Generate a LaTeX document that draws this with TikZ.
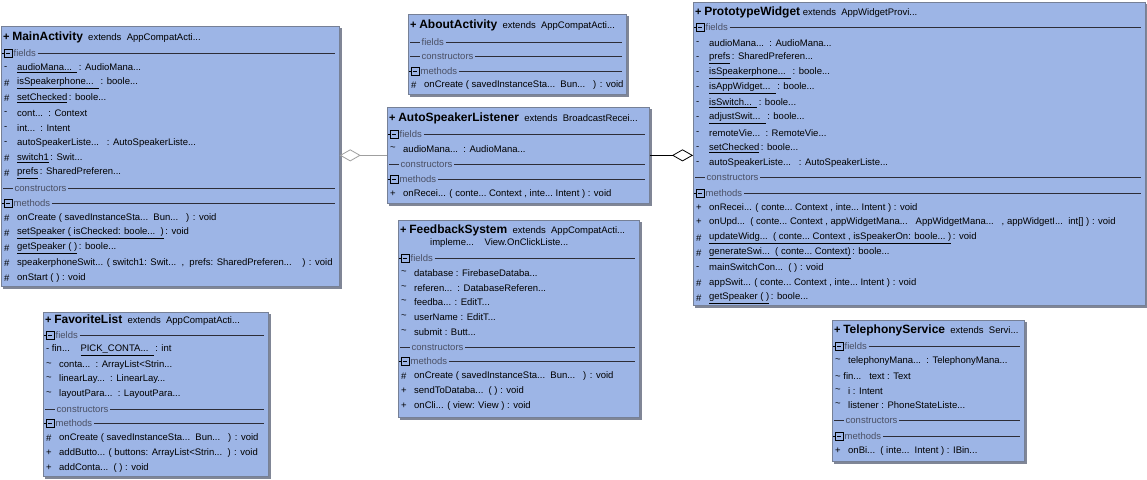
\documentclass[tikz,border=0pt]{standalone}
\usepackage{fontspec}
\setmainfont{Liberation Sans}
\usetikzlibrary{arrows.meta}
\definecolor{boxfill}{RGB}{157,181,230}
\definecolor{boxborder}{RGB}{118,128,150}
\definecolor{shadowc}{RGB}{128,134,150}
\definecolor{seclbl}{RGB}{75,80,100}
\definecolor{secline}{RGB}{45,45,55}
\tikzset{
 classbox/.style={draw=boxborder, fill=boxfill, line width=0.7pt, inner sep=0pt, anchor=north west},
 boxshadow/.style={fill=shadowc, draw=none},
 itemtxt/.style={anchor=west, inner sep=0pt, font=\fontsize{9.5}{10}\selectfont, text=black},
 titletxt/.style={anchor=west, inner sep=0pt, font=\fontsize{9.5}{10}\selectfont, text=black},
 sectxt/.style={anchor=west, inner sep=1.5pt, font=\fontsize{9.5}{10}\selectfont, text=seclbl},
 secrule/.style={draw=secline, line width=0.6pt},
 iconbox/.style={draw=black, line width=0.6pt, fill=none},
 aggr/.style={line width=0.8pt, -{Diamond[open, length=21pt, width=12pt, line width=0.8pt]}},
}
\newcommand\tld{\textasciitilde}
\newcommand\cname[1]{\textbf{\fontsize{12}{12}\selectfont #1}}
\newcommand\tplus{\textbf{\fontsize{11}{12}\selectfont +}}
\newcounter{nodec}
\newcommand\ClassBox[5]{%
 \fill[boxshadow] (#2+2,#3+2) rectangle (#4+2.5,#5+2.5);
 \node[classbox, minimum width={(#4-#2)*1pt}, minimum height={(#5-#3)*1pt}] (#1) at (#2,#3) {};}
\newcommand\Title[4]{\node[titletxt] (#1-title) at (#2+2,#3) {#4};}
\newcommand\Row[4]{\stepcounter{nodec}%
 \node[itemtxt] (sym\arabic{nodec}) at (#1+3,#2) {#3};%
 \node[itemtxt] (row\arabic{nodec}) at (#1+16,#2) {#4};}
\newcommand\RowF[3]{\stepcounter{nodec}%
 \node[itemtxt] (row\arabic{nodec}) at (#1+3,#2) {#3};}
\newcommand\SecBox[4]{\stepcounter{nodec}%
 \draw[iconbox] (#1+3,#3-4) rectangle (#1+11,#3+4);
 \draw[iconbox] (#1+5,#3) -- (#1+9,#3);
 \draw[iconbox] (#1+1,#3) -- (#1+3,#3);
 \node[sectxt] (sec\arabic{nodec}) at (#1+11,#3) {#4};
 \draw[secrule] (sec\arabic{nodec}.east) -- (#2-4,#3);}
\newcommand\SecDash[4]{\stepcounter{nodec}%
 \draw[secrule] (#1+2,#3) -- (#1+12,#3);
 \node[sectxt] (sec\arabic{nodec}) at (#1+12,#3) {#4};
 \draw[secrule] (sec\arabic{nodec}.east) -- (#2-4,#3);}
\begin{document}
\begin{tikzpicture}[x=1pt,y=-1pt]
\useasboundingbox[fill=white] (0,0) rectangle (1147,479);

% ---------------- MainActivity
\ClassBox{ma}{1}{26}{339}{286}
\Title{ma}{1}{37}{\tplus\ \cname{MainActivity}\ \ extends\ \ AppCompatActi...}
\SecBox{1}{339}{53}{fields}
\Row{1}{68}{-}{\underline{audioMana...\ \ }\,: AudioMana...}
\Row{1}{83}{\#}{\underline{isSpeakerphone...\ \ }\,: boole...}
\Row{1}{98}{\#}{\underline{setChecked}\,: boole...}
\Row{1}{113}{-}{cont...\ \ : Context}
\Row{1}{128}{-}{int...\ \ : Intent}
\Row{1}{143}{-}{autoSpeakerListe...\ \ \ : AutoSpeakerListe...}
\Row{1}{158}{\#}{\underline{switch1}\,: Swit...}
\Row{1}{173}{\#}{\underline{prefs}\,: SharedPreferen...}
\SecDash{1}{339}{188}{constructors}
\SecBox{1}{339}{203}{methods}
\Row{1}{218}{\#}{onCreate ( savedInstanceSta...\ \ Bun...\ \ \ ) : void}
\Row{1}{233}{\#}{\underline{setSpeaker ( isChecked: boole...\ \ )}\,: void}
\Row{1}{248}{\#}{\underline{getSpeaker ( )}\,: boole...}
\Row{1}{263}{\#}{speakerphoneSwit... ( switch1: Swit...\ \ ,\ \ prefs: SharedPreferen...\ \ \ \ ) : void}
\Row{1}{278}{\#}{onStart ( ) : void}

% ---------------- FavoriteList
\ClassBox{fl}{43}{312}{268}{476}
\Title{fl}{43}{320}{\tplus\ \cname{FavoriteList}\ \ extends\ \ AppCompatActi...}
\SecBox{43}{268}{335}{fields}
\RowF{43}{350}{- fin...\ \ \ \ \underline{PICK\_CONTA...\ \ }\,: int}
\Row{43}{365}{\tld}{conta...\ \ : ArrayList<Strin...}
\Row{43}{379}{\tld}{linearLay...\ \ : LinearLay...}
\Row{43}{394}{\tld}{layoutPara...\ \ : LayoutPara...}
\SecDash{43}{268}{409}{constructors}
\SecBox{43}{268}{423}{methods}
\Row{43}{438}{\#}{onCreate ( savedInstanceSta...\ \ Bun...\ \ \ ) : void}
\Row{43}{453}{+}{addButto... ( buttons: ArrayList<Strin...\ \ ) : void}
\Row{43}{468}{+}{addConta...\ \ ( ) : void}

% ---------------- AboutActivity
\ClassBox{aa}{408}{14}{626}{94}
\Title{aa}{408}{25}{\tplus\ \cname{AboutActivity}\ \ extends\ \ AppCompatActi...}
\SecDash{408}{626}{42}{fields}
\SecDash{408}{626}{56}{constructors}
\SecBox{408}{626}{71}{methods}
\Row{408}{85}{\#}{onCreate ( savedInstanceSta...\ \ Bun...\ \ \ ) : void}

% ---------------- AutoSpeakerListener
\ClassBox{asl}{387}{107}{649}{203}
\Title{asl}{387}{118}{\tplus\ \cname{AutoSpeakerListener}\ \ extends\ \ BroadcastRecei...}
\SecBox{387}{649}{134}{fields}
\Row{387}{149}{\tld}{audioMana...\ \ : AudioMana...}
\SecDash{387}{649}{164}{constructors}
\SecBox{387}{649}{179}{methods}
\Row{387}{194}{+}{onRecei... ( conte...\ Context ,\ inte...\ Intent ) : void}

% ---------------- FeedbackSystem
\ClassBox{fs}{398}{220}{639}{417}
\Title{fs}{398}{230}{\tplus\ \cname{FeedbackSystem}\ \ extends\ \ AppCompatActi...}
\node[titletxt] (fs-impl) at (430,243) {impleme...\ \ \ \ View.OnClickListe...};
\SecBox{398}{639}{258}{fields}
\Row{398}{273}{\tld}{database : FirebaseDataba...}
\Row{398}{288}{\tld}{referen...\ \ : DatabaseReferen...}
\Row{398}{302}{\tld}{feedba... : EditT...}
\Row{398}{317}{\tld}{userName : EditT...}
\Row{398}{332}{\tld}{submit : Butt...}
\SecDash{398}{639}{347}{constructors}
\SecBox{398}{639}{361}{methods}
\Row{398}{376}{\#}{onCreate ( savedInstanceSta...\ \ Bun...\ \ \ ) : void}
\Row{398}{391}{+}{sendToDataba...\ \ ( ) : void}
\Row{398}{406}{+}{onCli... ( view: View ) : void}

% ---------------- PrototypeWidget
\ClassBox{pw}{693}{2}{1145}{305}
\Title{pw}{693}{12}{\tplus\ \cname{PrototypeWidget}\ extends\ \ AppWidgetProvi...}
\SecBox{693}{1145}{27}{fields}
\Row{693}{43}{-}{audioMana...\ \ : AudioMana...}
\Row{693}{58}{-}{\underline{prefs}\,: SharedPreferen...}
\Row{693}{73}{-}{\underline{isSpeakerphone...\ \ }\,: boole...}
\Row{693}{88}{-}{\underline{isAppWidget...\ \ }\,: boole...}
\Row{693}{103}{-}{\underline{isSwitch...\ \ }\,: boole...}
\Row{693}{118}{-}{\underline{adjustSwit...\ \ }\,: boole...}
\Row{693}{133}{-}{remoteVie...\ \ : RemoteVie...}
\Row{693}{148}{-}{\underline{setChecked}\,: boole...}
\Row{693}{163}{-}{autoSpeakerListe...\ \ \ : AutoSpeakerListe...}
\SecDash{693}{1145}{177}{constructors}
\SecBox{693}{1145}{193}{methods}
\Row{693}{208}{+}{onRecei... ( conte...\ Context ,\ inte...\ Intent ) : void}
\Row{693}{222}{+}{onUpd...\ \ ( conte...\ Context ,\ appWidgetMana...\ \ \ AppWidgetMana...\ \ \ ,\ appWidgetI...\ \ int[] ) : void}
\Row{693}{238}{\#}{\underline{updateWidg...\ \ ( conte...\ Context ,\ isSpeakerOn: boole...\ )}\,: void}
\Row{693}{253}{\#}{\underline{generateSwi...\ \ ( conte...\ Context)}\,: boole...}
\Row{693}{268}{-}{mainSwitchCon...\ \ ( ) : void}
\Row{693}{283}{\#}{appSwit... ( conte...\ Context ,\ inte...\ Intent ) : void}
\Row{693}{298}{\#}{\underline{getSpeaker ( )}\,: boole...}

% ---------------- TelephonyService
\ClassBox{ts}{832}{320}{1024}{461}
\Title{ts}{832}{330}{\tplus\ \cname{TelephonyService}\ \ extends\ \ Servi...}
\SecBox{832}{1024}{346}{fields}
\Row{832}{361}{\tld}{telephonyMana...\ \ : TelephonyMana...}
\RowF{832}{376}{\tld\ fin...\ \ \ text : Text}
\Row{832}{391}{\tld}{i : Intent}
\Row{832}{405}{\tld}{listener : PhoneStateListe...}
\SecDash{832}{1024}{420}{constructors}
\SecBox{832}{1024}{436}{methods}
\Row{832}{451}{+}{onBi...\ \ ( inte...\ \ Intent ) : IBin...}

% ---------------- connectors
\draw[aggr, draw=gray!75] (asl.west) -- (asl.west -| ma.east);
\draw[aggr] (asl.east) -- (asl.east -| pw.west);
\end{tikzpicture}
\end{document}
